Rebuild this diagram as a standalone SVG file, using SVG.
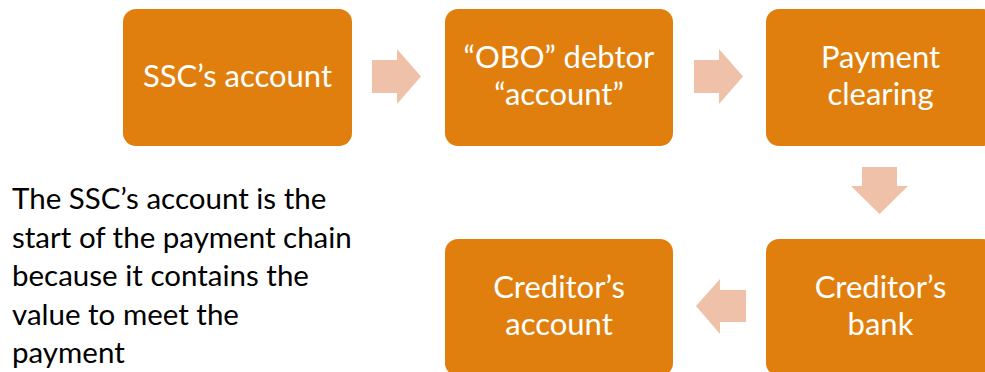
<svg xmlns="http://www.w3.org/2000/svg" width="985" height="372" viewBox="0 0 985 372">
  <style>
    .box { fill: #E07F0E; }
    .arrow { fill: #EFC1A9; }
    .lbl { font-family: Lato, "Liberation Sans", sans-serif; font-size: 31px; fill: #FFFFFF; text-anchor: middle; }
    .note { font-family: Lato, "Liberation Sans", sans-serif; font-size: 29.5px; fill: #000000; }
  </style>
  <rect width="985" height="372" fill="#FFFFFF"/>

  <!-- connectors: block arrows between the steps -->
  <g id="connectors">
    <polygon class="arrow" points="372,60 397,60 397,49 421,76.5 397,104 397,93 372,93"/>
    <polygon class="arrow" points="694,60 719,60 719,49 743,76.5 719,104 719,93 694,93"/>
    <polygon class="arrow" points="862,167 897,167 897,186 908,186 879.5,214 851,186 862,186"/>
    <polygon class="arrow" points="746,290 720,290 720,279 696,306 720,334 720,322 746,322"/>
  </g>

  <g id="ssc-account">
    <rect class="box" x="123" y="9" width="229" height="137" rx="13"/>
    <text class="lbl" x="237.5" y="87">SSC’s account</text>
  </g>

  <g id="obo-debtor-account">
    <rect class="box" x="445" y="9" width="228" height="137" rx="13"/>
    <text class="lbl" x="559" y="68">“OBO” debtor</text>
    <text class="lbl" x="559" y="105">“account”</text>
  </g>

  <g id="payment-clearing">
    <rect class="box" x="766" y="9" width="229" height="137" rx="13"/>
    <text class="lbl" x="880.5" y="68">Payment</text>
    <text class="lbl" x="880.5" y="105">clearing</text>
  </g>

  <g id="creditors-bank">
    <rect class="box" x="766" y="239" width="229" height="137" rx="13"/>
    <text class="lbl" x="880.5" y="298">Creditor’s</text>
    <text class="lbl" x="880.5" y="335">bank</text>
  </g>

  <g id="creditors-account">
    <rect class="box" x="445" y="239" width="228" height="137" rx="13"/>
    <text class="lbl" x="559" y="298">Creditor’s</text>
    <text class="lbl" x="559" y="335">account</text>
  </g>

  <g id="note">
    <text class="note" x="12" y="209">The SSC’s account is the</text>
    <text class="note" x="12" y="247.5">start of the payment chain</text>
    <text class="note" x="12" y="286">because it contains the</text>
    <text class="note" x="12" y="324.5">value to meet the</text>
    <text class="note" x="12" y="363">payment</text>
  </g>
</svg>
